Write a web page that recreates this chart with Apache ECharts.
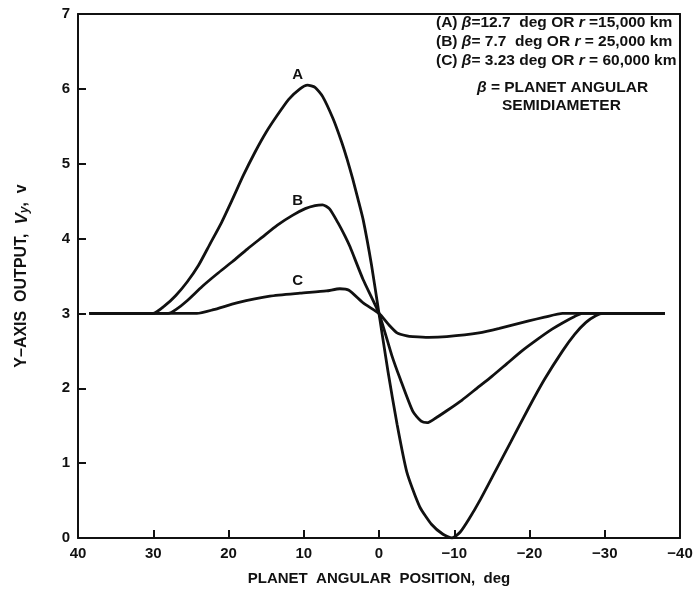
<!DOCTYPE html>
<html>
<head>
<meta charset="utf-8">
<script src="https://cdn.jsdelivr.net/npm/echarts@6/dist/echarts.min.js"></script>
<style>
  html, body { margin: 0; padding: 0; background: #fff; }
  #chart { width: 696px; height: 591px; }
</style>
</head>
<body>
<div id="chart"></div>
<script>
// Y-axis output voltage versus planet angular position, three planet sizes
const curveA = [
  [38.5, 3.0], [30, 3.0], [28.5, 3.1], [27, 3.24], [25.5, 3.42], [24, 3.64],
  [22.5, 3.92], [21, 4.2], [19.5, 4.52], [18, 4.85], [16.5, 5.15], [15, 5.42],
  [13.5, 5.65], [12, 5.86], [10.5, 6.0], [9.5, 6.05], [8.5, 6.02], [7.5, 5.9],
  [6.1, 5.6], [5, 5.3], [4.3, 5.08], [3.5, 4.8], [2.8, 4.53], [2.1, 4.25],
  [1, 3.65], [0, 3.0], [-1.2, 2.22], [-2.4, 1.52], [-3.7, 0.88], [-5.4, 0.42],
  [-7, 0.18], [-8.5, 0.05], [-9.7, 0.0], [-10.8, 0.08], [-12, 0.26],
  [-13.5, 0.52], [-15.5, 0.9], [-17.5, 1.28], [-19.9, 1.74], [-22, 2.12],
  [-24.4, 2.5], [-26, 2.72], [-27.5, 2.88], [-28.8, 2.97], [-29.8, 3.0], [-38, 3.0]
];
const curveB = [
  [38.5, 3.0], [28, 3.0], [27, 3.05], [25.5, 3.17], [23.5, 3.36], [21.5, 3.53],
  [19.5, 3.69], [17.5, 3.86], [15.5, 4.02], [13.5, 4.18], [11.5, 4.31],
  [9.8, 4.4], [8.5, 4.44], [7.5, 4.45], [6.6, 4.4], [5.5, 4.22], [4.5, 4.03],
  [3.85, 3.89], [2.1, 3.45], [0, 3.0], [-1.7, 2.44], [-2.8, 2.13], [-4.5, 1.69],
  [-5.6, 1.56], [-6.4, 1.54], [-7.5, 1.6], [-9, 1.7], [-11, 1.84], [-13, 2.0],
  [-15, 2.16], [-17, 2.33], [-19, 2.5], [-21, 2.65], [-23, 2.79], [-24.5, 2.88],
  [-26, 2.96], [-27, 3.0], [-38, 3.0]
];
const curveC = [
  [38.5, 3.0], [24.2, 3.0], [22, 3.05], [18.9, 3.14], [14.5, 3.23], [10.5, 3.27],
  [7, 3.3], [5.2, 3.33], [4, 3.31], [2.1, 3.14], [0, 3.0], [-1.2, 2.86],
  [-2.4, 2.74], [-3.7, 2.7], [-4.5, 2.69], [-6.6, 2.68], [-9, 2.69],
  [-13.3, 2.74], [-16, 2.8], [-19.9, 2.9], [-22, 2.95], [-24.4, 3.0], [-38, 3.0]
];
const curveNames = ['A', 'B', 'C'];
const curveTags = [[10.8, 6.19], [10.8, 4.5], [10.8, 3.43]];
const xTicks = [40, 30, 20, 10, 0, -10, -20, -30, -40];
const yTicks = [0, 1, 2, 3, 4, 5, 6, 7];

const FONT = 'Liberation Sans, Arial, sans-serif';
const INK = '#111';

const chart = echarts.init(document.getElementById('chart'), null, { renderer: 'canvas' });

function curveSeries(data, idx) {
  return {
    type: 'line',
    name: curveNames[idx],
    data: data,
    smooth: 0.2,
    showSymbol: false,
    lineStyle: { color: INK, width: 2.8 },
    z: 3,
    markPoint: {
      symbol: 'circle',
      symbolSize: 0,
      silent: true,
      label: {
        show: true,
        formatter: curveNames[idx],
        color: INK,
        fontFamily: FONT,
        fontWeight: 'bold',
        fontSize: 15
      },
      data: [{ coord: curveTags[idx] }]
    }
  };
}

const legendLines = [
  { y: 23, x: 436, t: '(A) {i|\u03B2}=12.7  deg OR {i|r} =15,000 km' },
  { y: 42, x: 436, t: '(B) {i|\u03B2}= 7.7  deg OR {i|r} = 25,000 km' },
  { y: 61, x: 436, t: '(C) {i|\u03B2}= 3.23 deg OR {i|r} = 60,000 km' },
  { y: 88, x: 477, t: '{i|\u03B2} = PLANET ANGULAR' },
  { y: 106, x: 502, t: 'SEMIDIAMETER' }
];

const frameLine = { show: true, onZero: false, lineStyle: { color: INK, width: 2 } };
const tickStyle = { show: true, inside: true, length: 8, lineStyle: { color: INK, width: 2 } };

chart.setOption({
  animation: false,
  backgroundColor: '#fff',
  grid: { left: 78, right: 16, top: 14, bottom: 46, show: false },
  xAxis: [{
    type: 'value',
    position: 'bottom',
    min: -40, max: 40, interval: 10, inverse: true,
    name: 'PLANET  ANGULAR  POSITION,  deg',
    nameLocation: 'middle',
    nameGap: 33,
    nameTextStyle: { color: INK, fontFamily: FONT, fontWeight: 'bold', fontSize: 15 },
    axisLine: frameLine,
    axisTick: tickStyle,
    splitLine: { show: false },
    axisLabel: {
      color: INK, fontFamily: FONT, fontWeight: 'bold', fontSize: 15, margin: 8,
      formatter: v => (xTicks.indexOf(v) < 0 ? '' : (v < 0 ? '\u2212' + (-v) : String(v)))
    }
  }, {
    type: 'value',
    position: 'top',
    min: -40, max: 40, inverse: true,
    axisLine: frameLine,
    axisTick: { show: false },
    axisLabel: { show: false },
    splitLine: { show: false }
  }],
  yAxis: [{
    type: 'value',
    position: 'left',
    min: 0, max: 7, interval: 1,
    name: '{n|Y\u2013AXIS  OUTPUT,  }{i|V}{s|y}{n|,  v}',
    nameLocation: 'middle',
    nameGap: 47,
    nameRotate: 90,
    nameTextStyle: {
      color: INK, fontFamily: FONT, fontWeight: 'bold', fontSize: 16,
      rich: {
        n: { color: INK, fontFamily: FONT, fontWeight: 'bold', fontSize: 16 },
        i: { color: INK, fontFamily: FONT, fontWeight: 'bold', fontStyle: 'italic', fontSize: 17 },
        s: { color: INK, fontFamily: FONT, fontWeight: 'bold', fontStyle: 'italic', fontSize: 12, verticalAlign: 'bottom', padding: [6, 0, 0, 0] }
      }
    },
    axisLine: frameLine,
    axisTick: tickStyle,
    splitLine: { show: false },
    axisLabel: {
      color: INK, fontFamily: FONT, fontWeight: 'bold', fontSize: 15, margin: 8,
      formatter: v => (yTicks.indexOf(v) < 0 ? '' : String(v))
    }
  }, {
    type: 'value',
    position: 'right',
    min: 0, max: 7,
    axisLine: frameLine,
    axisTick: { show: false },
    axisLabel: { show: false },
    splitLine: { show: false }
  }],
  graphic: legendLines.map(l => ({
    type: 'text',
    left: l.x,
    top: l.y - 8,
    silent: true,
    style: {
      text: l.t,
      fill: INK,
      font: 'bold 15.5px ' + FONT,
      rich: {
        i: { fill: INK, fontFamily: FONT, fontWeight: 'bold', fontStyle: 'italic', fontSize: 15.5 }
      }
    }
  })),
  series: [curveSeries(curveA, 0), curveSeries(curveB, 1), curveSeries(curveC, 2)]
});
</script>
</body>
</html>
